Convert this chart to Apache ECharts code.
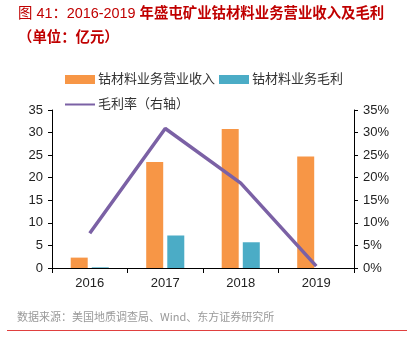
<!DOCTYPE html>
<html>
<head>
<meta charset="utf-8">
<script src="https://cdn.jsdelivr.net/npm/echarts@6/dist/echarts.min.js"></script>
<style>
  html, body { margin: 0; padding: 0; background: #fff; }
  .wrap { position: relative; width: 407px; height: 351px; }
  .title { position: absolute; left: 18px; top: 1px; color: #C00000; font-size: 14.4px; line-height: 24px;
    font-family: "Liberation Sans", "Noto Sans CJK SC", sans-serif; }
  .title b { font-weight: bold; }
  .source { position: absolute; left: 17px; top: 308px; color: #999; font-size: 11px;
    font-family: "Noto Sans CJK SC", sans-serif; }
  .rule { position: absolute; left: 7px; right: 0; top: 330px; height: 1px; background: #E0403F; }
  #chart { position: absolute; left: 0; top: 0; width: 407px; height: 351px; }
</style>
</head>
<body>
<div class="wrap">
  <div id="chart"></div>
  <div class="title">图 41：2016-2019 <b>年盛屯矿业钴材料业务营业收入及毛利</b><br><b>（单位：亿元）</b></div>
  <div class="source">数据来源：美国地质调查局、Wind、东方证券研究所</div>
  <div class="rule"></div>
</div>
<script>
// 年份
const years = ['2016', '2017', '2018', '2019']
// 钴材料业务营业收入（亿元）
const revenue = [2.3, 23.5, 30.8, 24.7]
// 钴材料业务毛利（亿元）
const grossProfit = [0.15, 7.2, 5.7, 0]
// 毛利率（%）
const margin = [7.7, 30.9, 18.8, 0.4]

const font = '"Liberation Sans", "Noto Sans CJK SC", sans-serif'
const myChart = echarts.init(document.getElementById('chart'))

const option = {
  animation: false,
  textStyle: { fontFamily: font },
  legend: [
    {
      left: 60,
      top: 68,
      itemWidth: 30,
      itemHeight: 9,
      itemGap: 4,
      icon: 'rect',
      textStyle: { color: '#333', fontSize: 13, fontFamily: font, padding: [0, 0, 0, -2] },
      data: ['钴材料业务营业收入', '钴材料业务毛利']
    },
    {
      left: 60,
      top: 93,
      itemWidth: 30,
      itemHeight: 9,
      textStyle: { color: '#333', fontSize: 13, fontFamily: font, padding: [0, 0, 0, -2] },
      data: [{ name: '毛利率（右轴）', icon: 'path://M0,4 L30,4 L30,6 L0,6 Z' }]
    }
  ],
  grid: {
    left: 52,
    right: 53,
    top: 110,
    bottom: 83
  },
  xAxis: {
    type: 'category',
    data: years,
    axisLine: { lineStyle: { color: '#000', width: 1 } },
    axisTick: { show: true, length: 5, lineStyle: { color: '#000' } },
    axisLabel: { color: '#222', fontSize: 13, margin: 9, fontFamily: font }
  },
  yAxis: [
    {
      type: 'value',
      min: 0,
      max: 35,
      interval: 5,
      splitLine: { show: false },
      axisLine: { show: true, lineStyle: { color: '#000' } },
      axisTick: { show: true, length: 4, lineStyle: { color: '#000' } },
      axisLabel: { color: '#222', fontSize: 13, margin: 9, fontFamily: font }
    },
    {
      type: 'value',
      min: 0,
      max: 35,
      interval: 5,
      position: 'right',
      splitLine: { show: false },
      axisLine: { show: true, lineStyle: { color: '#000' } },
      axisTick: { show: true, length: 4, lineStyle: { color: '#000' } },
      axisLabel: { color: '#222', fontSize: 13, margin: 9, fontFamily: font, formatter: '{value}%' }
    }
  ],
  series: [
    {
      name: '钴材料业务营业收入',
      type: 'bar',
      data: revenue,
      barWidth: 17,
      barGap: '24%',
      itemStyle: { color: '#F79646' }
    },
    {
      name: '钴材料业务毛利',
      type: 'bar',
      data: grossProfit,
      barWidth: 17,
      itemStyle: { color: '#4BACC6' }
    },
    {
      name: '毛利率（右轴）',
      type: 'line',
      yAxisIndex: 1,
      data: margin,
      symbol: 'none',
      lineStyle: { color: '#7B61A5', width: 3.5 },
      itemStyle: { color: '#7B61A5' },
      z: 5
    }
  ]
}
myChart.setOption(option, true)
</script>
</body>
</html>
